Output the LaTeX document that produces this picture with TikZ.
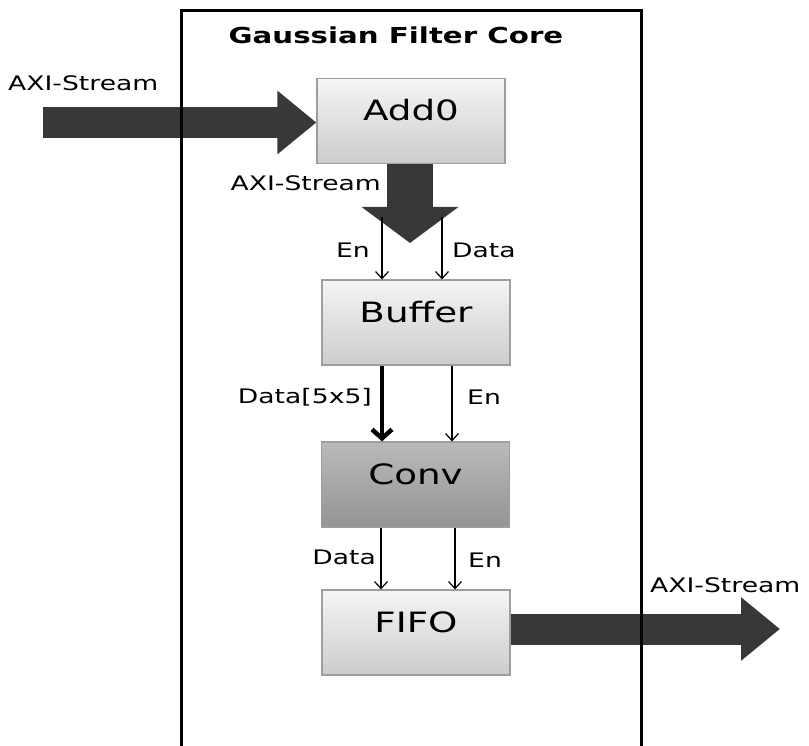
\documentclass[tikz,border=0pt]{standalone}
\usepackage{fontspec}
\setmainfont{DejaVu Sans}[FakeStretch=1.33]
\usetikzlibrary{arrows.meta}
\tikzset{
	blk/.style={draw=black!38, line width=1.2pt, top color=black!4, bottom color=black!20,
		minimum width=188pt, minimum height=85pt, text height=20pt, text depth=20pt,
		font=\fontsize{28}{32}\selectfont},
	blkdark/.style={blk, top color=black!27, bottom color=black!42},
	lbl/.style={inner sep=0pt, font=\fontsize{20}{24}\selectfont},
	sig/.style={line width=1.2pt, -{Straight Barb[length=7pt,width=13pt]}},
	bus/.style={line width=4.5pt, -{Straight Barb[length=9pt,width=20pt]}},
	stream/.style={draw=black!78, line width=31pt, -{Triangle[length=39pt,width=61pt]}},
	streamdown/.style={draw=black!78, line width=46pt, -{Triangle[length=36pt,width=95pt]}},
}

\begin{document}
\begin{tikzpicture}[x=1pt, y=-1pt]
		%%%%% START %%%%%
		\useasboundingbox (0,0) rectangle (809,746);
		
		\node[font=\bfseries\fontsize{22}{26}\selectfont] (title) at (396,35) {Gaussian Filter Core};
		
		\node[blk] (Add0) at (411,121) {Add0};
		\node[blk] (Buffer) at (416,322.5) {Buffer};
		\node[blkdark] (Conv) at (415.5,484.5) {Conv};
		\node[blk] (FIFO) at (416,632.5) {FIFO};
		
		\coordinate (in) at (43,122.5);
		\coordinate (addout) at (410,243);
		\coordinate (out) at (780,629);
		\draw[stream] (in) -- (in -| Add0.west);
		\draw[streamdown] (addout |- Add0.south) -- (addout);
		\draw[stream] (out -| FIFO.east) -- (out);
		
		\coordinate (en0) at (382,217);
		\coordinate (dat0) at (442,217);
		\draw[sig] (en0) -- (en0 |- Buffer.north);
		\draw[sig] (dat0) -- (dat0 |- Buffer.north);
		
		\draw[bus] ([xshift=-34pt]Buffer.south) coordinate (dat1) -- (dat1 |- Conv.north);
		\draw[sig] ([xshift=36pt]Buffer.south) coordinate (en1) -- (en1 |- Conv.north);
		
		\draw[sig] ([xshift=-34.5pt]Conv.south) coordinate (dat2) -- (dat2 |- FIFO.north);
		\draw[sig] ([xshift=39.5pt]Conv.south) coordinate (en2) -- (en2 |- FIFO.north);
		
		\node[lbl, anchor=west] (axiIn) at (8,83) {AXI-Stream};
		\node[lbl, anchor=east] (axiMid) at (381,183) {AXI-Stream};
		\node[lbl, anchor=east] (en0lbl) at (370,250) {En};
		\node[lbl, anchor=west] (dat0lbl) at (452,250) {Data};
		\node[lbl, anchor=east] (dat1lbl) at (372,397) {Data[5x5]};
		\node[lbl, anchor=west] (en1lbl) at (467,397) {En};
		\node[lbl, anchor=east] (dat2lbl) at (376,557) {Data};
		\node[lbl, anchor=west] (en2lbl) at (468,560) {En};
		\node[lbl, anchor=west] (axiOut) at (650,585) {AXI-Stream};
		
		\draw[line width=3pt] (181,746) -- (181,11) -- (641,11) -- (641,746);
		%%%%% END %%%%%
\end{tikzpicture}
\end{document}
